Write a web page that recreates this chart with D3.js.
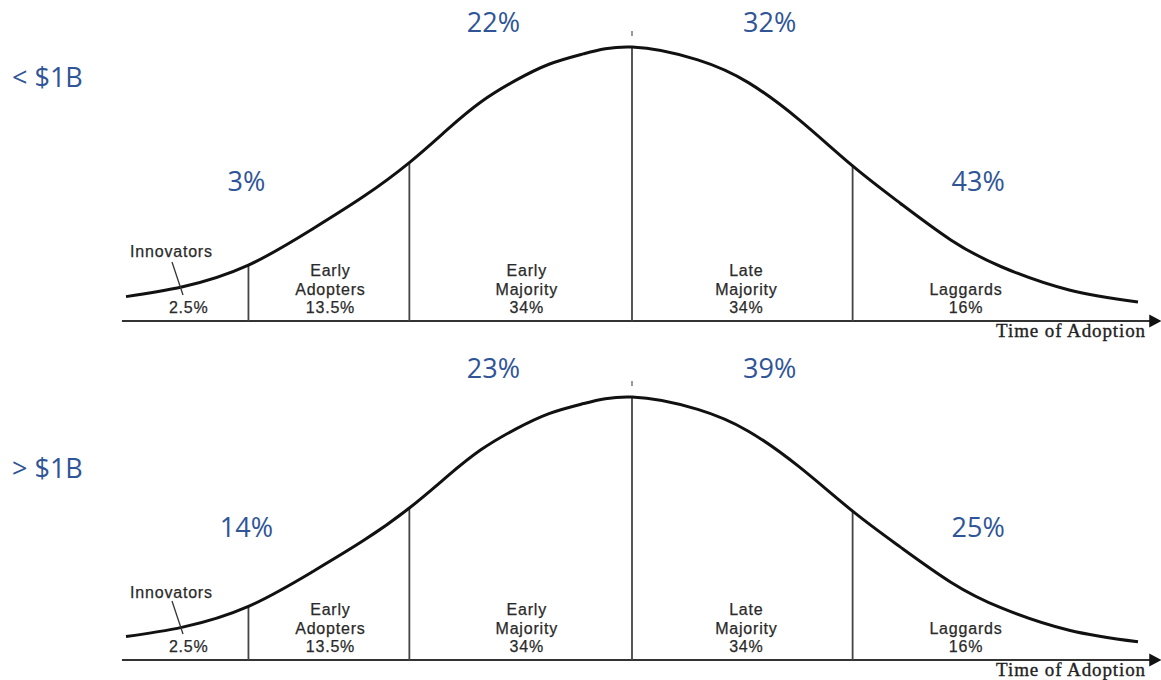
<!DOCTYPE html>
<html>
<head>
<meta charset="utf-8">
<script src="https://cdn.jsdelivr.net/npm/d3@7"></script>
<style>
  html, body { margin: 0; padding: 0; background: #fff; }
  svg { display: block; }
</style>
</head>
<body>
<svg id="chart" width="1161" height="680"></svg>
<script>
// === Données ===
// courbe d'adoption : temps (0-100 le long de l'axe) et hauteur relative (sommet = 1)
const curveTime   = [0, 5.6, 12.1, 18.4, 23.5, 28.0, 31.8, 35.1, 38.5, 41.8, 45.2, 50, 56.5, 61.5, 66.5, 71.8, 76.5, 81.5, 86.5, 93.2, 100];
const curveHeight = [0.089, 0.125, 0.204, 0.335, 0.455, 0.578, 0.70, 0.80, 0.878, 0.937, 0.975, 1, 0.953, 0.870, 0.735, 0.566, 0.430, 0.296, 0.198, 0.113, 0.069];

// catégories de Rogers
const categories    = ["Innovators", "Early Adopters", "Early Majority", "Late Majority", "Laggards"];
const categoryShare = ["2.5%", "13.5%", "34%", "34%", "16%"];
const boundaryTime   = [12.1, 28.0, 50, 71.8];
const boundaryHeight = [0.204, 0.578, 1, 0.566];

// groupes et parts (bleu)
const groups      = ["< $1B", "> $1B"];
const smallShares = ["3%", "22%", "32%", "43%"];
const largeShares = ["14%", "23%", "39%", "25%"];
const axisLabel   = "Time of Adoption";

// === Mise en page ===
const BLUE = "#2F5597";
const svg = d3.select('#chart');
const x = d3.scaleLinear().domain([0, 100]).range([126, 1138]);

const shareAt = [11.9, 36.3, 63.6, 84.2];     // position des parts bleues (unités de temps)
const labelAt = [6.2, 20.2, 39.6, 61.3, 83.0]; // centre des libellés gris

const panels = [
  { group: groups[0], shares: smallShares, base: 321, top: 47,  groupY: 87,  shareY: [191, 32, 32, 191] },
  { group: groups[1], shares: largeShares, base: 660, top: 397, groupY: 478, shareY: [537, 378, 378, 537] }
];

svg.append('rect').attr('width', 1161).attr('height', 680).attr('fill', '#fff');

const points = curveTime.map((t, i) => [t, curveHeight[i]]);

panels.forEach(p => {
  const y = d3.scaleLinear().domain([0, 1]).range([p.base, p.top]);
  const g = svg.append('g');

  // axe du temps + flèche
  g.append('line')
    .attr('x1', x(-0.4)).attr('x2', x(101.4))
    .attr('y1', p.base).attr('y2', p.base)
    .attr('stroke', '#333').attr('stroke-width', 2);
  const tip = x(102.3);
  g.append('path')
    .attr('d', `M${tip},${p.base} L${tip - 12},${p.base - 6.5} L${tip - 12},${p.base + 6.5} Z`)
    .attr('fill', '#111');

  // séparations verticales
  g.selectAll('line.cut').data(boundaryTime).enter().append('line')
    .attr('class', 'cut')
    .attr('x1', d => x(d)).attr('x2', d => x(d))
    .attr('y1', p.base).attr('y2', (d, i) => y(boundaryHeight[i]))
    .attr('stroke', '#444').attr('stroke-width', 1.8);

  // petite marque au-dessus du sommet
  g.append('line')
    .attr('x1', x(50)).attr('x2', x(50))
    .attr('y1', y(1) - 16).attr('y2', y(1) - 11)
    .attr('stroke', '#777').attr('stroke-width', 1.5);

  // courbe en cloche
  g.append('path')
    .datum(points)
    .attr('d', d3.line().x(d => x(d[0])).y(d => y(d[1])).curve(d3.curveNatural))
    .attr('fill', 'none')
    .attr('stroke', '#111').attr('stroke-width', 3);

  // libellés gris
  const gray = g.append('g')
    .attr('font-family', '"Liberation Sans", Arial, sans-serif')
    .attr('font-size', 16)
    .attr('letter-spacing', 0.8)
    .attr('fill', '#2a2a2a')
    .attr('stroke', '#2a2a2a').attr('stroke-width', 0.25)
    .attr('text-anchor', 'middle');

  categories.forEach((name, i) => {
    if (i === 0) {
      gray.append('text').attr('x', x(0.4)).attr('y', p.base - 64 + (p.base > 400 ? 2 : 0))
        .attr('text-anchor', 'start').text(name);
      gray.append('text').attr('x', x(labelAt[0])).attr('y', p.base - 8).text(categoryShare[0]);
      return;
    }
    const words = name.split(' ');
    const lines = words.concat([categoryShare[i]]);
    lines.forEach((txt, k) => {
      gray.append('text')
        .attr('x', x(labelAt[i]))
        .attr('y', p.base - 8 - (lines.length - 1 - k) * 18.5)
        .text(txt);
    });
  });

  // trait de rappel des innovateurs
  g.append('line')
    .attr('x1', 172).attr('y1', p.base - 59)
    .attr('x2', 183).attr('y2', p.base - 26)
    .attr('stroke', '#333').attr('stroke-width', 1.3);

  g.append('text')
    .attr('x', 1146).attr('y', p.base + 16)
    .attr('text-anchor', 'end')
    .attr('font-family', '"Liberation Serif", "Times New Roman", serif')
    .attr('font-size', 19)
    .attr('letter-spacing', 0.9)
    .attr('fill', '#222')
    .attr('stroke', '#222').attr('stroke-width', 0.35)
    .text(axisLabel);

  // parts en bleu
  const blue = g.append('g')
    .attr('font-family', '"Open Sans", sans-serif')
    .attr('font-size', 27)
    .attr('fill', BLUE);

  blue.selectAll('text.share').data(p.shares).enter().append('text')
    .attr('class', 'share')
    .attr('text-anchor', 'middle')
    .attr('x', (d, i) => x(shareAt[i]))
    .attr('y', (d, i) => p.shareY[i])
    .text(d => d);

  blue.append('text')
    .attr('x', 12).attr('y', p.groupY)
    .text(p.group);
});
</script>
</body>
</html>
